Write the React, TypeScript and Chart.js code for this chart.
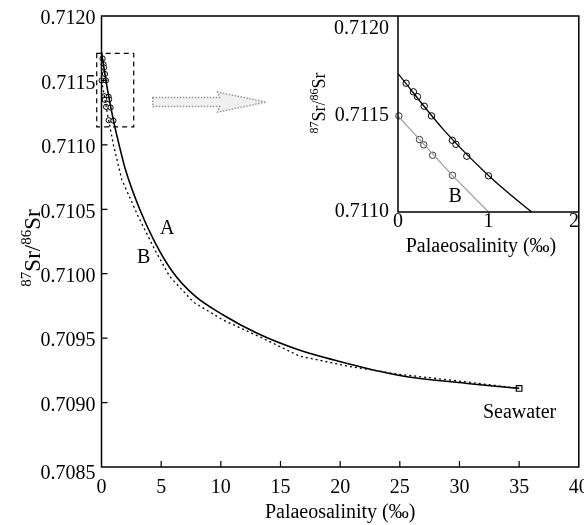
import React, { useEffect, useRef } from "react";
import { Chart, registerables } from "chart.js";
Chart.register(...registerables);

const FONT = '"Liberation Serif", "Times New Roman", serif';

// ---- axes ----
const mainXTicks = [0, 5, 10, 15, 20, 25, 30, 35, 40];
const mainYTicks = [0.7085, 0.709, 0.7095, 0.71, 0.7105, 0.711, 0.7115, 0.712];
const insetXTicks = [0, 1, 2];
const insetYTicks = [0.711, 0.7115, 0.712];
const xTitle = "Palaeosalinity (\u2030)";

// ---- mixing curve A (solid) ----
const curveAX = [0, 0.5, 1.0, 1.45, 2.0, 3.2, 4.5, 6.0, 7.8, 10.2, 13.0, 16.5, 19.5, 25, 30.5, 35];
const curveAY = [0.71172, 0.71143, 0.71119, 0.71101, 0.71081, 0.7105, 0.71024, 0.71001, 0.70983, 0.70968, 0.70954, 0.70941, 0.70933, 0.70921, 0.70915, 0.70911];

// ---- mixing curve B (dotted) ----
const curveBX = [0, 0.6, 1.0, 1.7, 3.1, 4.5, 5.7, 7.7, 10.2, 13.5, 16.6, 20.8, 24.9, 30.6, 35];
const curveBY = [0.7115, 0.71119, 0.711, 0.71073, 0.71044, 0.71018, 0.70998, 0.70978, 0.70964, 0.7095, 0.70936, 0.70928, 0.70922, 0.70916, 0.70911];

// ---- samples ----
const samplesAX = [0.09, 0.17, 0.215, 0.29, 0.37, 0.6, 0.64, 0.76, 1.0];
const samplesAY = [0.71167, 0.711625, 0.7116, 0.71155, 0.7115, 0.711373, 0.711352, 0.71129, 0.711188];
const samplesBX = [0.01, 0.237, 0.285, 0.383, 0.602];
const samplesBY = [0.7115, 0.711377, 0.711349, 0.711295, 0.711191];

// ---- seawater end member ----
const seawaterX = [35];
const seawaterY = [0.70911];

// ---- annotations (data units) ----
const zoomBoxX = [-0.4, 2.7];
const zoomBoxY = [0.71114, 0.71171];
const arrowX = [4.3, 9.9, 13.8]; // tail, head base, tip
const arrowY = 0.711332;
const mainLabels = [
  { text: "A", x: 5.5, y: 0.710346 },
  { text: "B", x: 3.53, y: 0.710125 },
  { text: "Seawater", x: 35.04, y: 0.708923 },
];
const insetLabels = [{ text: "B", x: 0.633, y: 0.711078 }];

const pts = (xs: number[], ys: number[]) => xs.map((x, i) => ({ x, y: ys[i] }));

function drawSrLabel(ctx: CanvasRenderingContext2D, cx: number, cy: number, big: number, small: number) {
  ctx.save();
  ctx.translate(cx, cy);
  ctx.rotate(-Math.PI / 2);
  const parts = [
    { t: "87", sup: true },
    { t: "Sr/", sup: false },
    { t: "86", sup: true },
    { t: "Sr", sup: false },
  ];
  const fb = `${big}px ${FONT}`;
  const fs = `${small}px ${FONT}`;
  let total = 0;
  const widths = parts.map((p) => {
    ctx.font = p.sup ? fs : fb;
    const w = ctx.measureText(p.t).width;
    total += w;
    return w;
  });
  let x = -total / 2;
  ctx.textAlign = "left";
  ctx.textBaseline = "alphabetic";
  ctx.fillStyle = "#000";
  const base = big * 0.35;
  parts.forEach((p, i) => {
    ctx.font = p.sup ? fs : fb;
    ctx.fillText(p.t, x, p.sup ? base - big * 0.38 : base);
    x += widths[i];
  });
  ctx.restore();
}

const mainDeco = {
  id: "mainDeco",
  afterDraw(chart: any) {
    const { ctx, chartArea: a, scales } = chart;
    const xs = scales.x, ys = scales.y;
    ctx.save();
    ctx.strokeStyle = "#000";
    ctx.lineWidth = 1.5;
    ctx.setLineDash([]);
    ctx.strokeRect(a.left, a.top, a.right - a.left, a.bottom - a.top);
    // inward ticks
    ctx.lineWidth = 1.2;
    ctx.beginPath();
    mainXTicks.slice(1, -1).forEach((v) => {
      const p = xs.getPixelForValue(v);
      ctx.moveTo(p, a.bottom);
      ctx.lineTo(p, a.bottom - 6);
    });
    mainYTicks.slice(1, -1).forEach((v) => {
      const p = ys.getPixelForValue(v);
      ctx.moveTo(a.left, p);
      ctx.lineTo(a.left + 6, p);
    });
    ctx.stroke();
    // tick labels
    ctx.fillStyle = "#000";
    ctx.font = `20px ${FONT}`;
    ctx.textAlign = "center";
    ctx.textBaseline = "middle";
    mainXTicks.forEach((v) => {
      ctx.fillText(String(v), xs.getPixelForValue(v), a.bottom + 21);
    });
    ctx.textAlign = "right";
    mainYTicks.forEach((v, i) => {
      const off = i === 0 ? 7 : 3;
      ctx.fillText(v.toFixed(4), a.left - 6, ys.getPixelForValue(v) + off);
    });
    // titles
    ctx.textAlign = "center";
    ctx.fillText(xTitle, (a.left + a.right) / 2, 513);
    drawSrLabel(ctx, 32, 248, 23, 15);
    // text labels
    ctx.font = `20px ${FONT}`;
    ctx.textAlign = "center";
    ctx.textBaseline = "middle";
    mainLabels.forEach((l) => {
      ctx.fillText(l.text, xs.getPixelForValue(l.x), ys.getPixelForValue(l.y));
    });
    // dashed zoom box
    ctx.lineWidth = 1.2;
    ctx.setLineDash([5, 4]);
    const bx0 = xs.getPixelForValue(zoomBoxX[0]);
    const bx1 = xs.getPixelForValue(zoomBoxX[1]);
    const by0 = ys.getPixelForValue(zoomBoxY[1]);
    const by1 = ys.getPixelForValue(zoomBoxY[0]);
    ctx.strokeRect(bx0, by0, bx1 - bx0, by1 - by0);
    // arrow
    const t0 = xs.getPixelForValue(arrowX[0]);
    const hb = xs.getPixelForValue(arrowX[1]);
    const tip = xs.getPixelForValue(arrowX[2]);
    const yc = ys.getPixelForValue(arrowY);
    ctx.beginPath();
    ctx.moveTo(t0, yc - 4.5);
    ctx.lineTo(hb, yc - 4.5);
    ctx.lineTo(hb - 2, yc - 10);
    ctx.lineTo(tip, yc);
    ctx.lineTo(hb - 2, yc + 10);
    ctx.lineTo(hb, yc + 4.5);
    ctx.lineTo(t0, yc + 4.5);
    ctx.closePath();
    ctx.fillStyle = "#f0f0f0";
    ctx.fill();
    ctx.setLineDash([1.5, 1.5]);
    ctx.strokeStyle = "#999";
    ctx.lineWidth = 1.5;
    ctx.stroke();
    ctx.restore();
  },
};

const insetDeco = {
  id: "insetDeco",
  afterDraw(chart: any) {
    const { ctx, chartArea: a, scales } = chart;
    const xs = scales.x, ys = scales.y;
    ctx.save();
    ctx.strokeStyle = "#000";
    ctx.lineWidth = 1.5;
    ctx.beginPath();
    ctx.moveTo(a.left, a.top);
    ctx.lineTo(a.left, a.bottom);
    ctx.lineTo(a.right, a.bottom);
    ctx.stroke();
    ctx.fillStyle = "#000";
    ctx.font = `20px ${FONT}`;
    ctx.textBaseline = "middle";
    insetXTicks.forEach((v, i) => {
      const p = xs.getPixelForValue(v);
      ctx.textAlign = i === insetXTicks.length - 1 ? "right" : "center";
      ctx.fillText(String(v), p, a.bottom + 10);
    });
    ctx.textAlign = "right";
    insetYTicks.forEach((v) => {
      const p = Math.max(ys.getPixelForValue(v), a.top + 13);
      ctx.fillText(v.toFixed(4), a.left - 9, p);
    });
    ctx.textAlign = "center";
    ctx.fillText(xTitle, a.left + 83, a.bottom + 35);
    drawSrLabel(ctx, 19, 103, 18, 12);
    ctx.font = `20px ${FONT}`;
    ctx.textAlign = "center";
    ctx.textBaseline = "middle";
    insetLabels.forEach((l) => {
      ctx.fillText(l.text, xs.getPixelForValue(l.x), ys.getPixelForValue(l.y));
    });
    ctx.restore();
  },
};

function baseOptions(xmin: number, xmax: number, ymin: number, ymax: number, padding: any) {
  return {
    responsive: false,
    animation: false as const,
    events: [] as any[],
    layout: { padding },
    plugins: { legend: { display: false }, tooltip: { enabled: false } },
    scales: {
      x: { type: "linear" as const, min: xmin, max: xmax, display: false },
      y: { type: "linear" as const, min: ymin, max: ymax, display: false },
    },
  };
}

export default function App() {
  const mainRef = useRef<HTMLCanvasElement>(null);
  const insetRef = useRef<HTMLCanvasElement>(null);

  useEffect(() => {
    const main = new Chart(mainRef.current!, {
      type: "scatter",
      data: {
        datasets: [
          {
            data: pts(curveAX, curveAY),
            showLine: true,
            borderColor: "#000",
            borderWidth: 1.6,
            pointRadius: 0,
            cubicInterpolationMode: "monotone",
          },
          {
            data: pts(curveBX, curveBY),
            showLine: true,
            borderColor: "#000",
            borderWidth: 1.3,
            borderDash: [2, 3],
            pointRadius: 0,
            tension: 0,
          },
          {
            data: pts(samplesAX, samplesAY),
            pointRadius: 2.6,
            pointBorderWidth: 1,
            pointBorderColor: "#000",
            pointBackgroundColor: "#fff",
            clip: false,
          },
          {
            data: pts(samplesBX, samplesBY),
            pointRadius: 2.6,
            pointBorderWidth: 1,
            pointBorderColor: "#000",
            pointBackgroundColor: "#fff",
            clip: false,
          },
          {
            data: pts(seawaterX, seawaterY),
            pointStyle: "rect",
            pointRadius: 4,
            pointBorderWidth: 1.2,
            pointBorderColor: "#000",
            pointBackgroundColor: "#fff",
            clip: false,
          },
        ],
      } as any,
      options: baseOptions(0, 40, 0.7085, 0.712, { left: 101.5, top: 16, right: 5, bottom: 58 }) as any,
      plugins: [mainDeco],
    });
    const inset = new Chart(insetRef.current!, {
      type: "scatter",
      data: {
        datasets: [
          {
            data: pts(curveAX, curveAY),
            showLine: true,
            borderColor: "#000",
            borderWidth: 1.3,
            pointRadius: 0,
            cubicInterpolationMode: "monotone",
          },
          {
            data: pts(curveBX, curveBY),
            showLine: true,
            borderColor: "#999",
            borderWidth: 1.1,
            pointRadius: 0,
            tension: 0,
          },
          {
            data: pts(samplesAX, samplesAY),
            pointRadius: 3.2,
            pointBorderWidth: 1,
            pointBorderColor: "#000",
            pointBackgroundColor: "rgba(0,0,0,0)",
            clip: false,
          },
          {
            data: pts(samplesBX, samplesBY),
            pointRadius: 3.2,
            pointBorderWidth: 1,
            pointBorderColor: "#333",
            pointBackgroundColor: "rgba(0,0,0,0)",
            clip: false,
          },
        ],
      } as any,
      options: baseOptions(0, 2, 0.711, 0.7120193, { left: 98, top: 16, right: 5, bottom: 58 }) as any,
      plugins: [insetDeco],
    });
    return () => {
      main.destroy();
      inset.destroy();
    };
  }, []);

  return (
    <div style={{ position: "fixed", left: 0, top: 0, width: 584, height: 525, background: "#fff" }}>
      <canvas ref={mainRef} width={584} height={525} style={{ position: "absolute", left: 0, top: 0 }} />
      <canvas ref={insetRef} width={284} height={270} style={{ position: "absolute", left: 300, top: 0 }} />
    </div>
  );
}
